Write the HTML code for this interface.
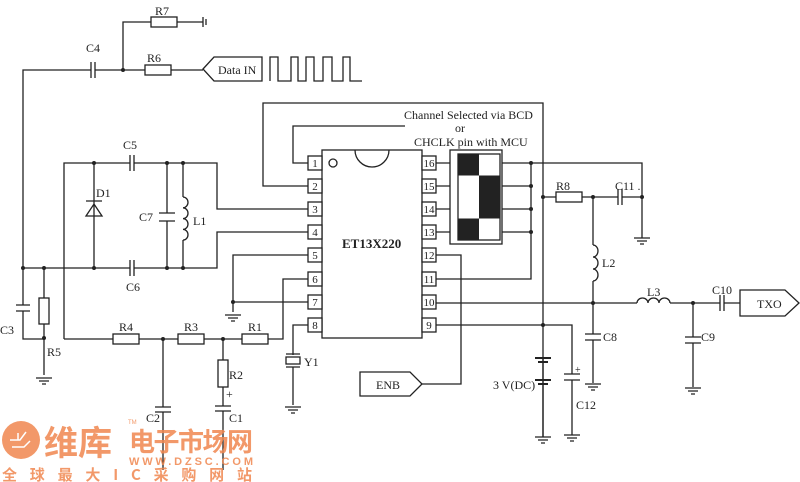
<!DOCTYPE html>
<html><head><meta charset="utf-8"><style>
html,body{margin:0;padding:0;background:#fff}
svg{display:block}
text{font-family:"Liberation Serif",serif;fill:#222}
</style></head><body>
<svg width="800" height="482" viewBox="0 0 800 482" xmlns="http://www.w3.org/2000/svg">
<defs>
<g id="gnd"><path d="M-8 0H8M-5 3H5M-2 6H2" stroke="#222" stroke-width="1.3" fill="none"/></g>
</defs>
<g stroke="#222" stroke-width="1.3" fill="none">
<path d="M123 70V22H151M177 22H203M203 17V27M206 19V25"/>
<rect x="151" y="17" width="26" height="10" fill="#fff"/>
<path d="M23 305V70H91M95 70H145M171 70H203"/>
<path d="M91 62V78M95 62V78"/>
<rect x="145" y="65" width="26" height="10" fill="#fff"/>
<path d="M203 69L214 57H262V81H214Z" fill="#fff"/>
<path d="M270 81V57H278V81H291V57H298V81H306V57H314V81H323V57H332V81H343V57H350V81H362"/>
<path d="M16 305H30M16 311H30M23 311V339H44"/>
<path d="M44 268V298M44 324V375"/>
<rect x="39" y="298" width="10" height="26" fill="#fff"/>
<path d="M64 339V163H130M134 163H217V209H308"/>
<path d="M130 155V171M134 155V171"/>
<path d="M23 268H130M134 268H217V232H308"/>
<path d="M130 260V276M134 260V276"/>
<path d="M94 163V268M86 201H102M86 216H102L94 204Z"/>
<path d="M167 163V213M167 221V268M159 213H175M159 221H175"/>
<path d="M183 163V197M183 240V268"/>
<path d="M183 197a5 5.4 0 0 1 0 10.8a5 5.4 0 0 1 0 10.8a5 5.4 0 0 1 0 10.8a5 5.4 0 0 1 0 10.8"/>
<path d="M64 339H113M139 339H178M204 339H242M268 339H283V279H308"/>
<rect x="113" y="334" width="26" height="10" fill="#fff"/>
<rect x="178" y="334" width="26" height="10" fill="#fff"/>
<rect x="242" y="334" width="26" height="10" fill="#fff"/>
<path d="M163 339V407M163 412V470M155 407H171M155 412H171"/>
<path d="M223 339V360M223 387V406M223 411V470M215 406H231M215 411H231"/>
<rect x="218" y="360" width="10" height="27" fill="#fff"/>
<path d="M308 255H233V312M233 302H308"/>
<path d="M308 325H293V355M293 367V405"/>
<rect x="286" y="357" width="14" height="7" fill="#fff"/>
<path d="M286 354H300M286 367H300"/>
<path d="M405 126H293V163H308M543 437V103H263V186H308"/>
<rect x="322" y="150" width="100" height="188" fill="#fff"/>
<path d="M355 150a17 17 0 0 0 34 0"/>
<circle cx="333" cy="163" r="4"/>
<g fill="#fff">
<rect x="308" y="156" width="14" height="14"/><rect x="308" y="179" width="14" height="14"/><rect x="308" y="202" width="14" height="14"/><rect x="308" y="225" width="14" height="14"/><rect x="308" y="248" width="14" height="14"/><rect x="308" y="272" width="14" height="14"/><rect x="308" y="295" width="14" height="14"/><rect x="308" y="318" width="14" height="14"/>
<rect x="422" y="156" width="14" height="14"/><rect x="422" y="179" width="14" height="14"/><rect x="422" y="202" width="14" height="14"/><rect x="422" y="225" width="14" height="14"/><rect x="422" y="248" width="14" height="14"/><rect x="422" y="272" width="14" height="14"/><rect x="422" y="295" width="14" height="14"/><rect x="422" y="318" width="14" height="14"/>
</g>
<path d="M436 163H450M436 186H450M436 209H450M436 232H450"/>
<rect x="450" y="150" width="52" height="94" fill="#fff"/>
<rect x="458" y="154" width="42" height="86"/>
<path d="M502 163H642V238M502 186H531M502 209H531M502 232H531M531 163V279H436"/>
<path d="M543 197H556M582 197H618M622 197H642"/>
<rect x="556" y="192" width="26" height="10" fill="#fff"/>
<path d="M618 189V205M622 189V205"/>
<path d="M593 197V245M593 281V334M593 340V383"/>
<path d="M593 245a5 6 0 0 1 0 12a5 6 0 0 1 0 12a5 6 0 0 1 0 12"/>
<path d="M585 334H601M585 340H601"/>
<path d="M436 303H637M670 303H720M724 303H740"/>
<path d="M637 303a5.5 5 0 0 1 11 0a5.5 5 0 0 1 11 0a5.5 5 0 0 1 11 0"/>
<path d="M720 295V311M724 295V311"/>
<path d="M740 290H785L799 303L785 316H740Z" fill="#fff"/>
<path d="M693 303V337M693 343V387M685 337H701M685 343H701"/>
<path d="M436 325H572V374M572 380V435M564 374H580M564 380H580"/>
<path d="M543 357V437"/>
<path d="M535 358H551M538 362H548M535 380H551M538 384H548" stroke-width="2"/>
<path d="M436 255H461V384H422"/>
<path d="M360 372H410L422 384L410 396H360Z" fill="#fff"/>
</g>
<g fill="#222">
<rect x="458" y="154" width="21" height="21.5"/>
<rect x="479" y="175.5" width="21" height="43"/>
<rect x="458" y="218.5" width="21" height="21.5"/>
</g>
<use href="#gnd" x="44" y="378"/><use href="#gnd" x="233" y="315"/><use href="#gnd" x="293" y="407"/>
<use href="#gnd" x="642" y="238"/><use href="#gnd" x="593" y="384"/><use href="#gnd" x="693" y="388"/>
<use href="#gnd" x="543" y="437"/><use href="#gnd" x="572" y="435"/>
<g fill="#222">
<circle cx="123" cy="70" r="2"/><circle cx="23" cy="268" r="2"/><circle cx="44" cy="268" r="2"/><circle cx="44" cy="338" r="2"/>
<circle cx="94" cy="163" r="2"/><circle cx="167" cy="163" r="2"/><circle cx="183" cy="163" r="2"/>
<circle cx="94" cy="268" r="2"/><circle cx="167" cy="268" r="2"/><circle cx="183" cy="268" r="2"/>
<circle cx="163" cy="339" r="2"/><circle cx="223" cy="339" r="2"/><circle cx="233" cy="302" r="2"/>
<circle cx="531" cy="163" r="2"/><circle cx="531" cy="186" r="2"/><circle cx="531" cy="209" r="2"/><circle cx="531" cy="232" r="2"/>
<circle cx="543" cy="197" r="2"/><circle cx="593" cy="197" r="2"/><circle cx="642" cy="197" r="2"/>
<circle cx="593" cy="303" r="2"/><circle cx="693" cy="303" r="2"/><circle cx="543" cy="325" r="2"/>
</g>
<g font-size="12">
<text x="155" y="15">R7</text><text x="86" y="52">C4</text><text x="147" y="62">R6</text>
<text x="218" y="74">Data IN</text>
<text x="404" y="119">Channel Selected via BCD</text>
<text x="455" y="132">or</text>
<text x="414" y="146">CHCLK pin with MCU</text>
<text x="123" y="149">C5</text><text x="96" y="197">D1</text><text x="139" y="221">C7</text><text x="193" y="225">L1</text>
<text x="126" y="291">C6</text><text x="0" y="334">C3</text><text x="47" y="356">R5</text>
<text x="119" y="331">R4</text><text x="184" y="331">R3</text><text x="248" y="331">R1</text>
<text x="229" y="379">R2</text><text x="226" y="398">+</text><text x="229" y="422">C1</text><text x="146" y="422">C2</text>
<text x="304" y="366">Y1</text>
<text x="376" y="389">ENB</text>
<text x="556" y="190">R8</text><text x="615" y="190">C11 .</text><text x="602" y="267">L2</text>
<text x="647" y="296">L3</text><text x="712" y="294">C10</text><text x="757" y="308">TXO</text>
<text x="603" y="341">C8</text><text x="701" y="341">C9</text>
<text x="493" y="389">3 V(DC)</text><text x="575" y="373" font-size="10">+</text><text x="576" y="409">C12</text>
<text x="342" y="248" font-weight="bold" font-size="13">ET13X220</text>
</g>
<g font-size="11" text-anchor="middle">
<text x="315" y="167">1</text><text x="315" y="190">2</text><text x="315" y="213">3</text><text x="315" y="236">4</text><text x="315" y="259">5</text><text x="315" y="283">6</text><text x="315" y="306">7</text><text x="315" y="329">8</text>
<text x="429" y="167">16</text><text x="429" y="190">15</text><text x="429" y="213">14</text><text x="429" y="236">13</text><text x="429" y="259">12</text><text x="429" y="283">11</text><text x="429" y="306">10</text><text x="429" y="329">9</text>
</g>
<g opacity="0.85">
<circle cx="21" cy="440" r="19" fill="#f0874f"/>
<path d="M10 440H20L26 432M12 447H24L30 441M18 433V440" stroke="#fff" stroke-width="1.5" fill="none"/>
<text x="44" y="455" font-size="34" font-weight="bold" style="font-family:'Noto Sans CJK SC',sans-serif;fill:#f0874f">维库</text>
<text x="129" y="451" font-size="26" font-weight="bold" textLength="124" style="font-family:'Noto Sans CJK SC',sans-serif;fill:#f0874f">电子市场网</text>
<text x="129" y="465" font-size="11" font-weight="bold" textLength="124" style="font-family:'Liberation Sans',sans-serif;fill:#f0874f">WWW.DZSC.COM</text>
<text x="2" y="480" font-size="15" font-weight="bold" textLength="250" style="font-family:'Noto Sans CJK SC',sans-serif;fill:#f0874f">全球最大IC采购网站</text>
<text x="128" y="424" font-size="6" style="font-family:'Liberation Sans',sans-serif;fill:#f0874f">TM</text>
</g>
</svg>
</body></html>
